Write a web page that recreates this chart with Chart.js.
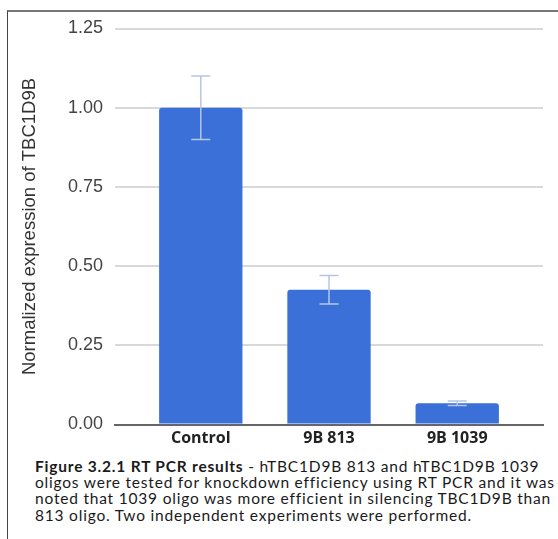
<!DOCTYPE html>
<html>
<head>
<meta charset="utf-8">
<script src="https://cdn.jsdelivr.net/npm/chart.js@4.4.1/dist/chart.umd.min.js"></script>
<style>
  body { margin: 0; background: #fff; width: 558px; height: 539px; overflow: hidden; position: relative; }
  #frame { position: absolute; left: 7px; top: 10px; width: 600px; height: 600px; border-top: 2px solid #777; border-left: 1px solid #444; }
  #chart { position: absolute; left: 0; top: 0; }
  #caption { position: absolute; left: 35px; top: 458px; font-family: 'Lato'; font-size: 15.5px; line-height: 16.2px; color: #1a1a1a; white-space: nowrap; }
</style>
</head>
<body>
<div id="frame"></div>
<canvas id="chart" width="558" height="455"></canvas>
<div id="caption">
  <span class="ln"><b>Figure 3.2.1 RT PCR results</b> - hTBC1D9B 813 and hTBC1D9B 1039</span><br>
  <span class="ln">oligos were tested for knockdown efficiency using RT PCR and it was</span><br>
  <span class="ln">noted that 1039 oligo was more efficient in silencing TBC1D9B than</span><br>
  <span class="ln">813 oligo. Two independent experiments were performed.</span>
</div>
<script>
var categories = ['Control', '9B 813', '9B 1039'];
var values = [1.0, 0.425, 0.067];
var errors = [0.1, 0.045, 0.007];
var yTitle = 'Normalized expression of TBC1D9B';

// stretch caption so the long line fills the width like the original
function fitCaption() {
  var cap = document.getElementById('caption');
  cap.style.letterSpacing = '0px';
  var line = document.querySelectorAll('#caption .ln')[1];
  var w = line.getBoundingClientRect().width;
  cap.style.letterSpacing = ((519 - w) / line.textContent.length) + 'px';
}
fitCaption();
document.fonts.ready.then(fitCaption);

var errorBars = {
  id: 'errorBars',
  afterDatasetsDraw: function(chart) {
    var ctx = chart.ctx;
    var y = chart.scales.y;
    var meta = chart.getDatasetMeta(0);
    ctx.save();
    ctx.strokeStyle = '#b5c6e6';
    ctx.lineWidth = 1.5;
    meta.data.forEach(function(bar, i) {
      var top = y.getPixelForValue(values[i] + errors[i]);
      var bottom = y.getPixelForValue(values[i] - errors[i]);
      ctx.beginPath();
      ctx.moveTo(bar.x, top); ctx.lineTo(bar.x, bottom);
      ctx.moveTo(bar.x - 9.5, top); ctx.lineTo(bar.x + 9.5, top);
      ctx.moveTo(bar.x - 9.5, bottom); ctx.lineTo(bar.x + 9.5, bottom);
      ctx.stroke();
    });
    ctx.restore();
  }
};

Chart.defaults.font.family = 'Liberation Sans';

var ctx = document.getElementById('chart').getContext('2d');
var myChart = new Chart(ctx, {
  type: 'bar',
  data: {
    datasets: [{
      data: values.map(function(v, i) { return { x: i, y: v }; }),
      backgroundColor: '#3a70d8',
      borderRadius: 3,
      barPercentage: 0.65,
      categoryPercentage: 1,
    }],
  },
  plugins: [errorBars],
  options: {
    responsive: false,
    animation: false,
    devicePixelRatio: 1,
    layout: {
      padding: { left: 10, top: 28.5, right: 15, bottom: 0 },
    },
    plugins: {
      legend: { display: false },
      tooltip: { enabled: false },
    },
    scales: {
      x: {
        type: 'linear',
        offset: false,
        min: -0.669,
        max: 2.669,
        afterBuildTicks: function(s) {
          s.ticks = categories.map(function(c, i) { return { value: i }; });
        },
        afterFit: function(s) { s.height = 30.5; },
        grid: { display: false, drawTicks: false },
        border: { color: '#666', width: 2 },
        ticks: {
          autoSkip: false,
          maxRotation: 0,
          padding: 4,
          color: '#222',
          font: { family: 'Open Sans', size: 16, weight: 'bold' },
          callback: function(v) { return categories[v]; },
        },
      },
      y: {
        min: 0,
        max: 1.25,
        afterFit: function(s) { s.width = 105; },
        grid: { color: '#d9d9d9', lineWidth: 2, drawTicks: false },
        border: { display: false },
        ticks: {
          stepSize: 0.25,
          padding: 12,
          color: '#444',
          font: { size: 18 },
          callback: function(v) { return v.toFixed(2); },
        },
        title: {
          display: true,
          text: yTitle,
          color: '#333',
          font: { size: 18.5 },
          padding: { top: 8.4, bottom: 0 },
        },
      },
    },
  },
});
</script>
</body>
</html>
